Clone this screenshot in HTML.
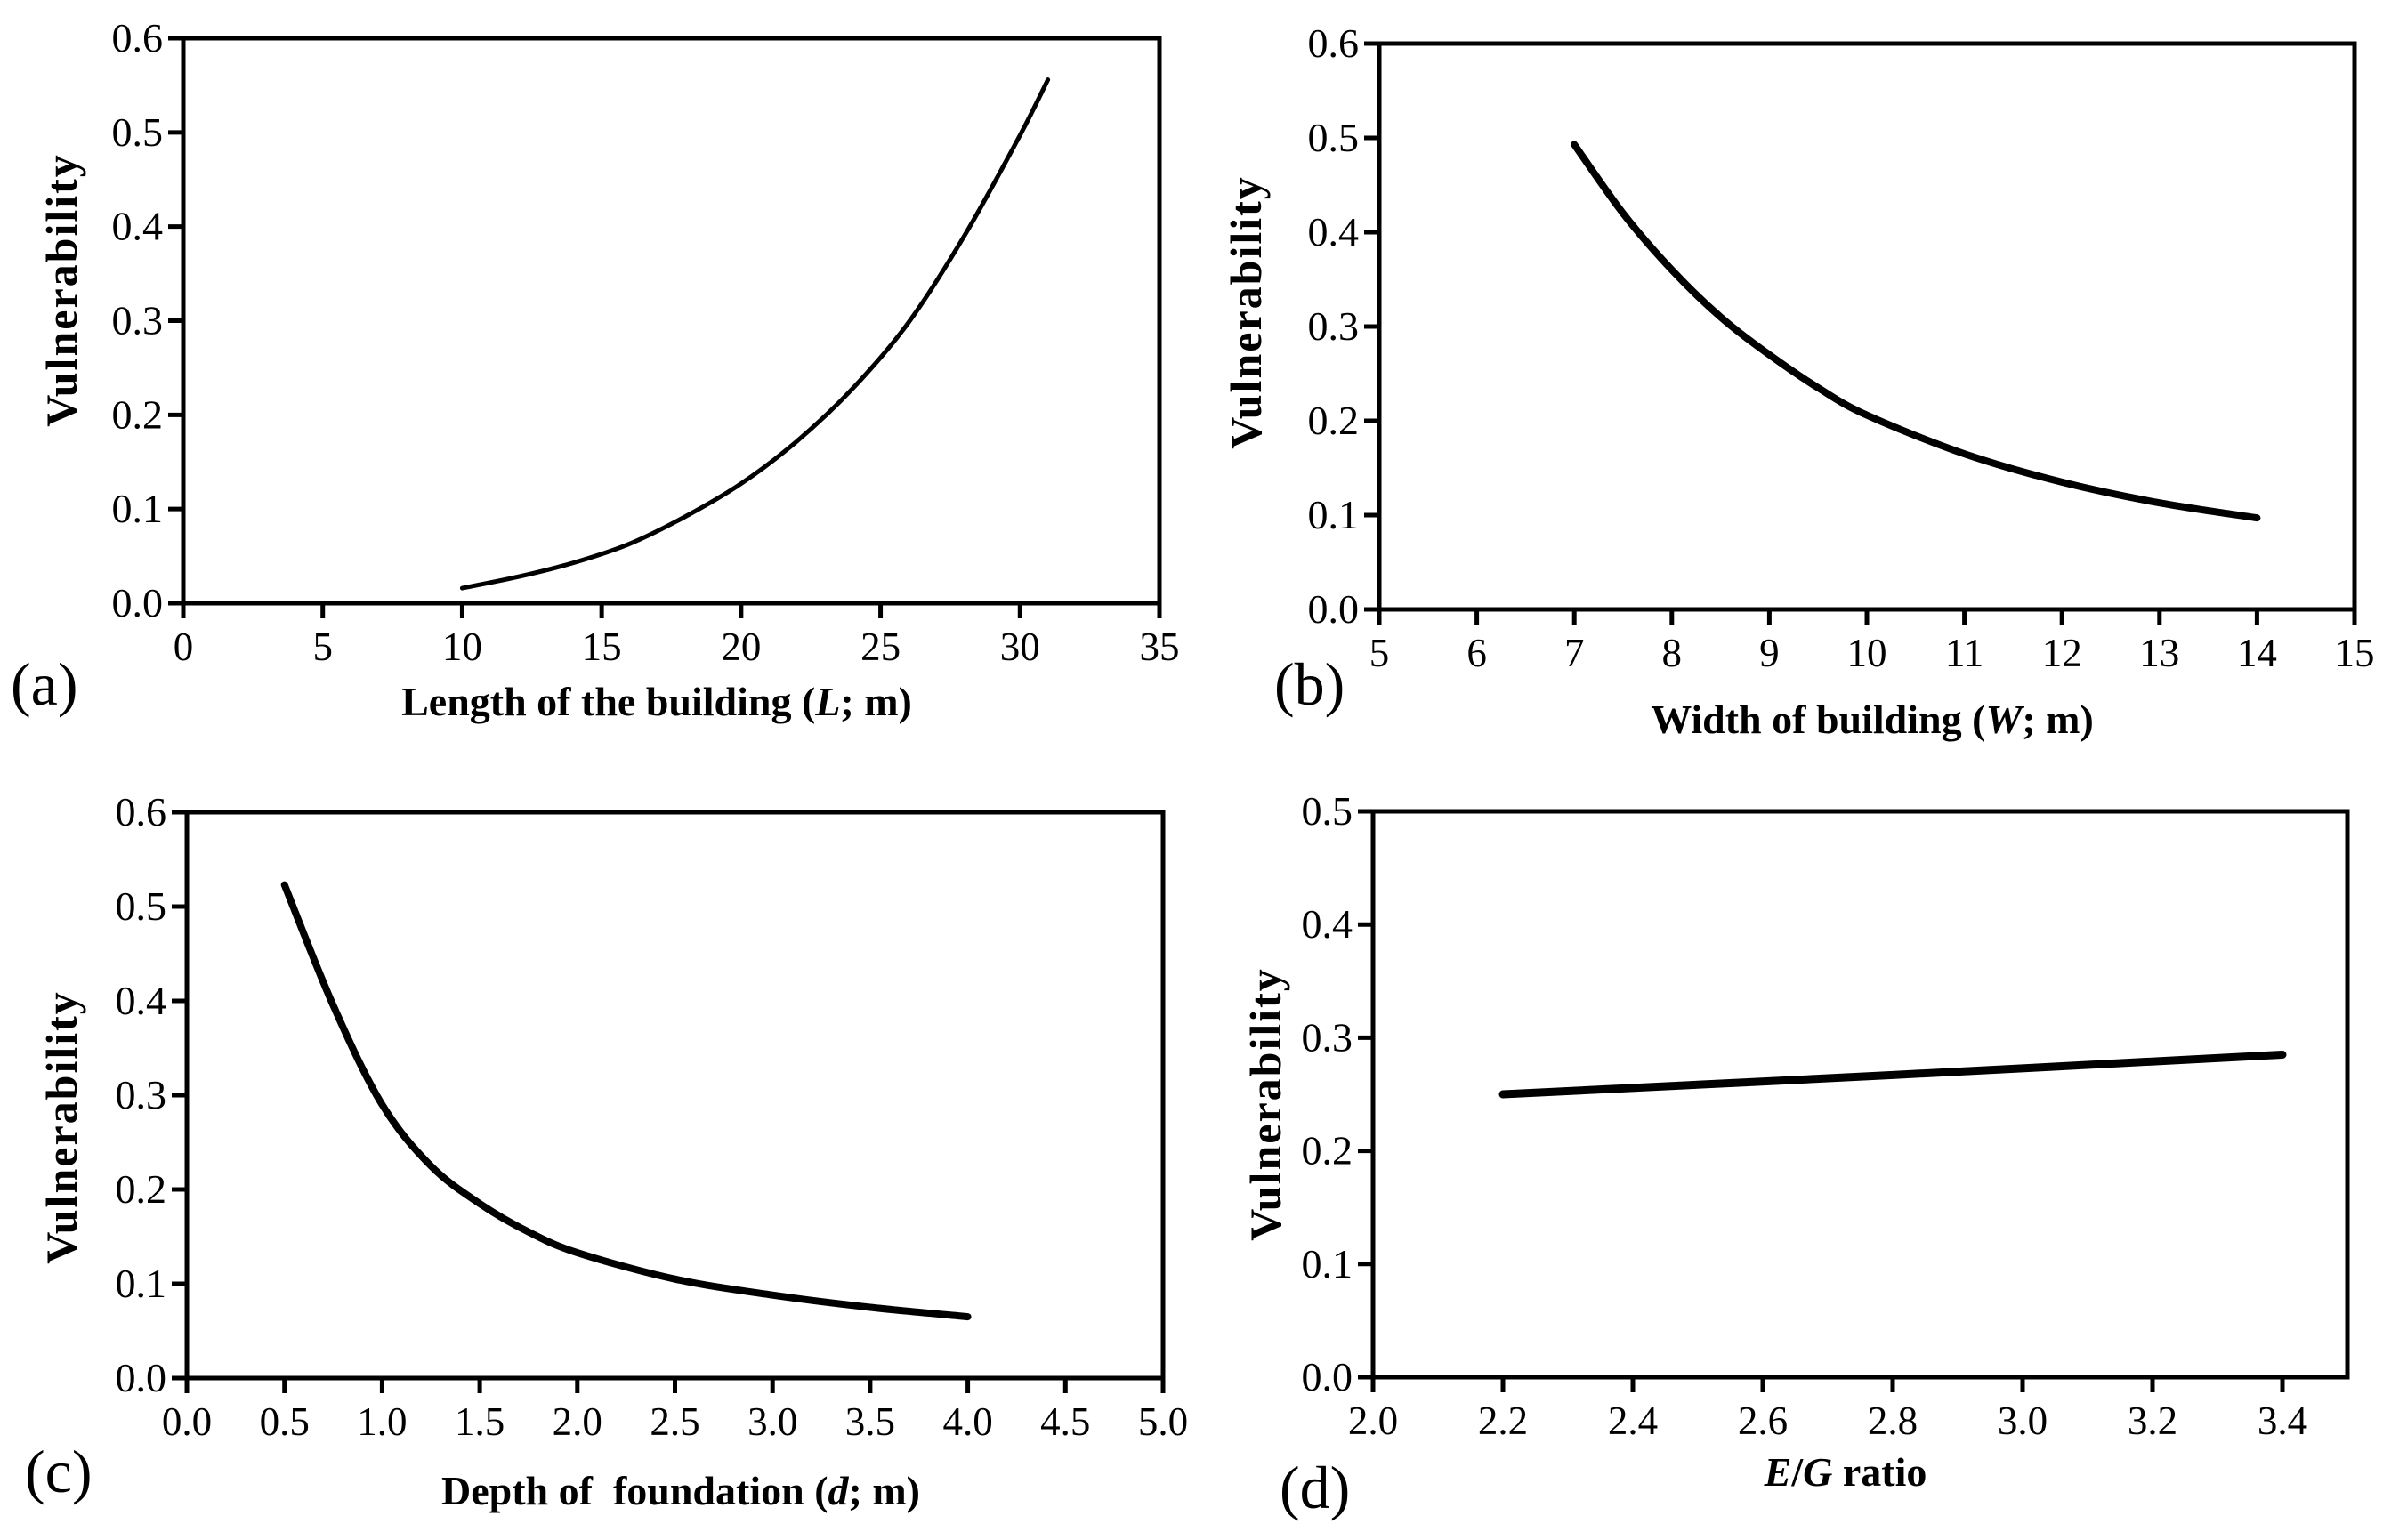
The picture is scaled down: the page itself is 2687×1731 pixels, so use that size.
<!DOCTYPE html>
<html><head><meta charset="utf-8"><style>
html,body{margin:0;padding:0;background:#fff;}
svg{display:block;}
text{font-family:"Liberation Serif",serif;fill:#000;}
</style></head><body>
<svg id="fig" width="2687" height="1731" viewBox="0 0 2687 1731" xmlns="http://www.w3.org/2000/svg"></svg>
<script>
// Panel (a)
const aX = [10,12,14,16,18,20,22,24,26,28,30,31];
const aY = [0.016,0.028,0.043,0.063,0.092,0.127,0.172,0.228,0.298,0.39,0.497,0.556];
const aXTicks = ['0','5','10','15','20','25','30','35'];
const aYTicks = ['0.0','0.1','0.2','0.3','0.4','0.5','0.6'];
// Panel (b)
const bX = [7,7.5,8,8.5,9,9.5,10,11,12,13,14];
const bY = [0.493,0.42,0.36,0.31,0.27,0.235,0.206,0.165,0.135,0.113,0.097];
const bXTicks = ['5','6','7','8','9','10','11','12','13','14','15'];
const bYTicks = ['0.0','0.1','0.2','0.3','0.4','0.5','0.6'];
// Panel (c)
const cX = [0.5,0.75,1.0,1.25,1.5,1.75,2.0,2.5,3.0,3.5,4.0];
const cY = [0.523,0.395,0.29,0.225,0.185,0.155,0.133,0.105,0.088,0.075,0.065];
const cXTicks = ['0.0','0.5','1.0','1.5','2.0','2.5','3.0','3.5','4.0','4.5','5.0'];
const cYTicks = ['0.0','0.1','0.2','0.3','0.4','0.5','0.6'];
// Panel (d)
const dX = [2.2,2.8,3.4];
const dY = [0.25,0.267,0.285];
const dXTicks = ['2.0','2.2','2.4','2.6','2.8','3.0','3.2','3.4'];
const dYTicks = ['0.0','0.1','0.2','0.3','0.4','0.5'];

const NS='http://www.w3.org/2000/svg';
const svg=document.getElementById('fig');
function mk(tag,attrs,parent){const e=document.createElementNS(NS,tag);for(const k in attrs)e.setAttribute(k,attrs[k]);(parent||svg).appendChild(e);return e;}

function panel(cfg){
  const g=mk('g',{});
  
  
  const sx=v=>cfg.L+(v-cfg.x0)/(cfg.x1-cfg.x0)*(cfg.R-cfg.L);
  const sy=v=>cfg.B-(v-cfg.y0)/(cfg.y1-cfg.y0)*(cfg.B-cfg.T);
  const fr=mk('rect',{x:cfg.L,y:cfg.T,width:cfg.R-cfg.L,height:cfg.B-cfg.T,fill:'none',stroke:'#000','stroke-width':5},g);
  
  
  cfg.xt.forEach(t=>{
    const x=sx(parseFloat(t));
    const l=mk('line',{x1:x,y1:cfg.B,x2:x,y2:cfg.B+17,stroke:'#000','stroke-width':5},g);
    
    
    const tx=mk('text',{x:x,y:cfg.B+64,'text-anchor':'middle','font-size':45},g);
    tx.textContent=t;
    
    
  });
  cfg.yt.forEach(t=>{
    const y=sy(parseFloat(t));
    const l=mk('line',{x1:cfg.L-17,y1:y,x2:cfg.L,y2:y,stroke:'#000','stroke-width':5},g);
    
    
    const tx=mk('text',{x:cfg.L-23,y:y+15,'text-anchor':'end','font-size':46},g);
    tx.textContent=t;
    
    
  });
  const P=cfg.xs.map((v,i)=>[sx(v),sy(cfg.ys[i])]);
  let d='M'+P[0][0]+','+P[0][1];
  for(let i=0;i<P.length-1;i++){
    const p0=P[i-1]||P[i],p1=P[i],p2=P[i+1],p3=P[i+2]||P[i+1];
    const c1=[p1[0]+(p2[0]-p0[0])/6,p1[1]+(p2[1]-p0[1])/6];
    const c2=[p2[0]-(p3[0]-p1[0])/6,p2[1]-(p3[1]-p1[1])/6];
    d+=' C'+c1[0]+','+c1[1]+' '+c2[0]+','+c2[1]+' '+p2[0]+','+p2[1];
  }
  const path=mk('path',{d:d,fill:'none',stroke:'#000','stroke-width':cfg.lw,'stroke-linecap':'round','stroke-linejoin':'round'},g);
  
  
  const yl=mk('text',{x:0,y:0,'text-anchor':'middle','font-size':50,'font-weight':'bold','letter-spacing':2,transform:'translate('+(cfg.ylx)+','+cfg.yly+') rotate(-90)'},g);
  yl.textContent='Vulnerability';
  
  
  const xl=mk('text',{x:cfg.xlx,y:cfg.xly,'text-anchor':'middle','font-size':46,'font-weight':'bold'},g);
  xl.innerHTML=cfg.xlabel;
  
  
  const pl=mk('text',{x:cfg.plx,y:cfg.ply,'font-size':68},g);
  pl.textContent=cfg.tag;
  
  
}

panel({name:'panel-a',L:206,R:1303,T:43,B:678,x0:0,x1:35,y0:0,y1:0.6,xt:aXTicks,yt:aYTicks,xs:aX,ys:aY,lw:5,
  ylx:86,yly:326,xlx:738,xly:804,xlabel:'Length of the building (<tspan font-style="italic">L</tspan>; m)',plx:12,ply:792,tag:'(a)'});
panel({name:'panel-b',L:1550,R:2646,T:49,B:685,x0:5,x1:15,y0:0,y1:0.6,xt:bXTicks,yt:bYTicks,xs:bX,ys:bY,lw:8,
  ylx:1417,yly:351,xlx:2104,xly:824,xlabel:'Width of building (<tspan font-style="italic">W</tspan>; m)',plx:1432,ply:792,tag:'(b)'});
panel({name:'panel-c',L:210,R:1307,T:913,B:1549,x0:0,x1:5,y0:0,y1:0.6,xt:cXTicks,yt:cYTicks,xs:cX,ys:cY,lw:8,
  ylx:86,yly:1267,xlx:765,xly:1691,xlabel:'Depth of&#160; foundation (<tspan font-style="italic">d</tspan>; m)',plx:28,ply:1677,tag:'(c)'});
panel({name:'panel-d',L:1543,R:2638,T:912,B:1548,x0:2.0,x1:3.5,y0:0,y1:0.5,xt:dXTicks,yt:dYTicks,xs:dX,ys:dY,lw:9,
  ylx:1439,yly:1241,xlx:2074,xly:1670,xlabel:'<tspan font-style="italic">E</tspan>/<tspan font-style="italic">G</tspan> ratio',plx:1438,ply:1695,tag:'(d)'});
</script>
</body></html>
